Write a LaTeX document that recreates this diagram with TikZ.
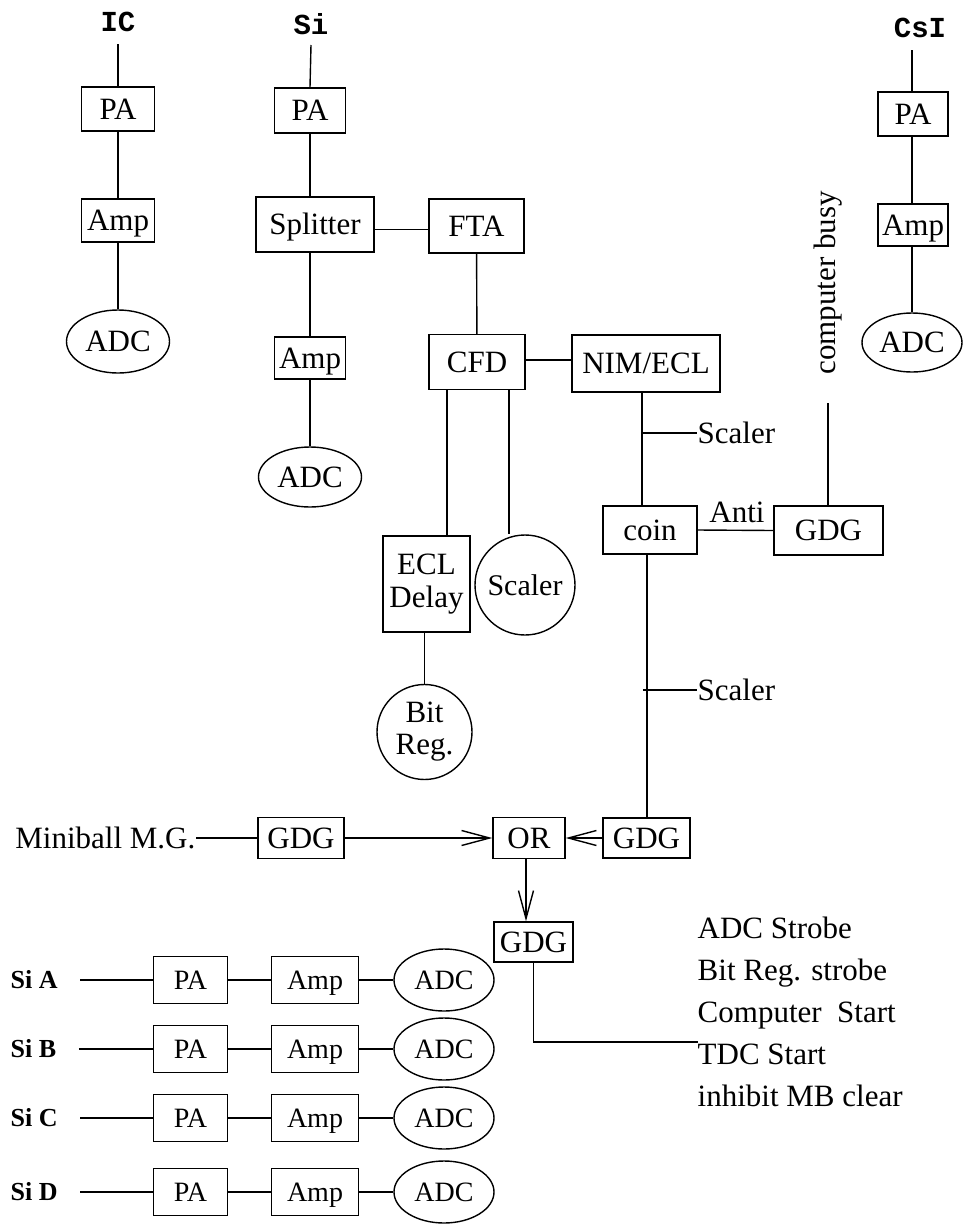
\documentclass[tikz,border=0pt]{standalone}
\usepackage{fontspec}
\setmainfont{Liberation Serif}
\setmonofont{Liberation Mono}
\usetikzlibrary{shapes.geometric,arrows.meta,calc}
\begin{document}
\begin{tikzpicture}[x=1pt,y=-1pt,
  every path/.style={line width=1.4pt},
  bx/.style={draw,line width=1.4pt,rectangle,inner sep=0pt,text height=20.5pt,text depth=0pt,font=\fontsize{31}{34}\selectfont},
  el/.style={draw,line width=1.4pt,ellipse,inner sep=0pt,text height=20.5pt,text depth=0pt,font=\fontsize{31}{34}\selectfont},
  cir/.style={draw,line width=1.4pt,circle,inner sep=0pt,align=center,font=\fontsize{30}{33}\selectfont},
  sbx/.style={draw,line width=1.4pt,rectangle,inner sep=0pt,minimum width=74pt,minimum height=47pt,text height=18.5pt,text depth=0pt,font=\fontsize{28}{30}\selectfont},
  sel/.style={draw,line width=1.4pt,ellipse,inner sep=0pt,minimum width=100pt,minimum height=62pt,text height=18.5pt,text depth=0pt,font=\fontsize{28}{30}\selectfont},
  lab/.style={inner sep=0pt,font=\fontsize{31}{34}\selectfont},
  det/.style={inner sep=0pt,font=\ttfamily\bfseries\fontsize{29}{30}\selectfont},
  sil/.style={inner sep=0pt,anchor=west,font=\bfseries\fontsize{26}{30}\selectfont},
  arr/.style={-{Straight Barb[length=28pt,width=15pt,line width=1.4pt]}}]
\useasboundingbox (0,0) rectangle (962,1227);
\fill[white] (0,0) rectangle (962,1227);

% IC column
\node[det] (ic) at (118,22) {IC};
\node[bx,minimum width=73pt,minimum height=44pt] (icpa) at (118,109) {PA};
\node[bx,minimum width=73pt,minimum height=43pt] (icamp) at (118,220.5) {Amp};
\node[el,minimum width=103pt,minimum height=63pt] (icadc) at (118,341.5) {ADC};
\draw ([yshift=-22]ic.center) -- (icpa.north);
\draw (icpa) -- (icamp);
\draw (icamp) -- (icadc);

% Si column
\node[det] (si) at (311,24) {Si};
\node[bx,minimum width=71pt,minimum height=45pt] (sipa) at (310,110.5) {PA};
\node[bx,minimum width=118pt,minimum height=55pt] (split) at (315,224.5) {Splitter};
\node[bx,minimum width=95pt,minimum height=54pt] (fta) at (476.5,226) {FTA};
\node[bx,minimum width=71pt,minimum height=42pt] (siamp) at (310,358) {Amp};
\node[el,minimum width=103pt,minimum height=60pt] (siadc) at (310,477) {ADC};
\draw ([yshift=-21]si.center) -- (sipa.north);
\draw (sipa.south) -- (sipa.south |- split.north);
\draw (split.south -| siamp.north) -- (siamp.north);
\draw (siamp) -- (siadc);
\draw ([yshift=-5]split.east) -- ([yshift=-5]split.east -| fta.west);

% CFD block
\node[bx,minimum width=96pt,minimum height=55pt] (cfd) at (477,362) {CFD};
\node[bx,minimum width=148pt,minimum height=57pt] (nim) at (646,363.5) {NIM/ECL};
\node[draw,line width=1.4pt,inner sep=0pt,minimum width=87pt,minimum height=96pt,align=center,font=\fontsize{31}{33}\selectfont] (ecl) at (426.5,584) {ECL\\Delay};
\node[cir,minimum size=100pt] (scal) at (525,585) {Scaler};
\node[cir,minimum size=95pt,font=\fontsize{31}{32}\selectfont] (bit) at (424.5,732) {Bit\\Reg.};
\draw (fta) -- (cfd);
\draw ([yshift=2]cfd.east) -- ([yshift=2]cfd.east -| nim.west);
\draw ([xshift=-30]cfd.south) -- ([xshift=-30]cfd.south |- ecl.north);
\draw ([xshift=32]cfd.south) -- ([xshift=32]cfd.south |- scal.north);
\draw (ecl.south -| bit.north) -- (bit.north);

% coin and GDG
\node[bx,minimum width=94pt,minimum height=48pt] (coin) at (650,530) {coin};
\node[bx,minimum width=109pt,minimum height=49pt] (gdgt) at (828.5,530.5) {GDG};
\node[lab] (anti) at (737,512) {Anti};
\node[lab,rotate=90] (busy) at (828,283) {computer busy};
\coordinate (busyend) at (828,403);
\draw (busyend) -- (busyend |- gdgt.north);
\draw (coin.east) -- (gdgt.west);
\draw ([xshift=-4]nim.south) -- ([xshift=-4]nim.south |- coin.north);
\coordinate (t1) at (643,433);
\node[lab,anchor=west] (sc1) at (697,433) {Scaler};
\draw (t1) -- (sc1.west);

% CsI column
\node[det] (csi) at (920,28) {CsI};
\node[bx,minimum width=70pt,minimum height=44pt] (cspa) at (913,114) {PA};
\node[bx,minimum width=70pt,minimum height=42pt] (csamp) at (913,225) {Amp};
\node[el,minimum width=100pt,minimum height=59pt] (csadc) at (912,342.5) {ADC};
\draw ([xshift=-8,yshift=-22]csi.center) -- (cspa.north -| 912,0);
\draw (cspa.south -| 912,0) -- (csamp.north -| 912,0);
\draw (csamp.south -| 912,0) -- (csadc.north);

% OR section
\node[bx,minimum width=72pt,minimum height=41pt] (or) at (529,838) {OR};
\node[bx,minimum width=87pt,minimum height=40pt] (gdgr) at (646.5,838) {GDG};
\node[bx,minimum width=86pt,minimum height=41pt] (gdgm) at (301,838) {GDG};
\node[lab,anchor=east] (mini) at (196,838) {Miniball M.G.};
\node[bx,minimum width=79pt,minimum height=40pt] (gdg2) at (533.5,942) {GDG};
\draw ([xshift=-3]coin.south) -- ([xshift=-3]coin.south |- gdgr.north);
\coordinate (t2) at (643,690);
\node[lab,anchor=west] (sc2) at (697,690) {Scaler};
\draw (t2) -- (sc2.west);
\draw (mini.east) -- (gdgm.west);
\draw[arr] (gdgm.east) -- (or.west);
\draw[arr] (gdgr.west) -- (or.east);
\draw[arr] ([xshift=-3]or.south) -- ([xshift=-3]or.south |- gdg2.north);
\coordinate (outc) at (698,1042);
\draw (gdg2.south) -- (gdg2.south |- outc) -- (outc);
\node[lab,anchor=north west,align=left,font=\fontsize{31}{42}\selectfont] (out) at (697,916)
  {ADC Strobe\\Bit Reg. strobe\\Computer\ \ Start\\TDC Start\\inhibit MB clear};

% Si A-D rows
\foreach \n/\y in {A/980,B/1049,C/1118,D/1192}{
  \node[sil] (l\n) at (10,\y) {Si \n};
  \node[sbx] (pa\n) at (190.5,\y) {PA};
  \node[sbx,minimum width=87pt] (amp\n) at (315,\y) {Amp};
  \node[sel] (adc\n) at (444,\y) {ADC};
  \draw ([xshift=22]l\n.east) -- (pa\n.west);
  \draw (pa\n) -- (amp\n);
  \draw (amp\n) -- (adc\n);
}
\end{tikzpicture}
\end{document}
